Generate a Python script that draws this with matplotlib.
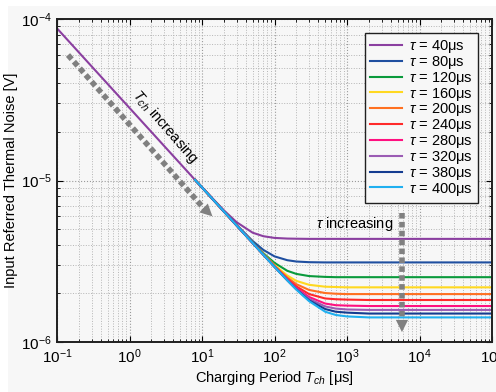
import numpy as np
import matplotlib
matplotlib.use("Agg")
import matplotlib.pyplot as plt
from matplotlib.patches import Rectangle

plt.rcParams['font.family'] = ['Liberation Sans', 'DejaVu Sans']
plt.rcParams['mathtext.fontset'] = 'custom'
plt.rcParams['mathtext.rm'] = 'Liberation Sans'
plt.rcParams['mathtext.it'] = 'Liberation Sans:italic'

# ---- data (noise in units of 1e-6 V) ----
tch = [0.1, 8, 10, 20, 30, 50, 70, 100, 150, 200, 300, 500, 700, 1000, 2000, 1e5]
NA = np.nan
tau40  = [87.5, 10.1, 9.08, 6.54, 5.52, 4.75, 4.52, 4.41, 4.37, 4.36, 4.35, 4.35, 4.35, 4.35, 4.35, 4.35]
tau80  = [NA, 10.1, 9.06, 6.46, 5.31, 4.22, 3.72, 3.39, 3.21, 3.15, 3.12, 3.11, 3.11, 3.11, 3.11, 3.11]
tau120 = [NA, 10.1, 9.06, 6.44, 5.28, 4.14, 3.55, 3.09, 2.76, 2.64, 2.56, 2.53, 2.52, 2.52, 2.52, 2.52]
tau160 = [NA, 10.1, 9.06, 6.44, 5.28, 4.12, 3.51, 2.99, 2.58, 2.39, 2.26, 2.20, 2.19, 2.18, 2.18, 2.18]
tau200 = [NA, 10.1, 9.06, 6.44, 5.27, 4.11, 3.49, 2.96, 2.51, 2.28, 2.10, 2.01, 1.99, 1.98, 1.98, 1.98]
tau240 = [NA, 10.1, 9.06, 6.44, 5.27, 4.11, 3.48, 2.94, 2.46, 2.21, 1.98, 1.86, 1.84, 1.83, 1.82, 1.82]
tau280 = [NA, 10.1, 9.06, 6.44, 5.27, 4.10, 3.48, 2.93, 2.44, 2.16, 1.90, 1.73, 1.69, 1.68, 1.67, 1.67]
tau320 = [NA, 10.1, 9.06, 6.44, 5.27, 4.10, 3.48, 2.92, 2.42, 2.13, 1.85, 1.66, 1.61, 1.59, 1.58, 1.58]
tau380 = [NA, 10.1, 9.06, 6.44, 5.27, 4.10, 3.47, 2.92, 2.41, 2.12, 1.81, 1.60, 1.54, 1.52, 1.50, 1.50]
tau400 = [NA, 10.1, 9.06, 6.44, 5.27, 4.10, 3.47, 2.92, 2.41, 2.11, 1.79, 1.54, 1.47, 1.44, 1.42, 1.42]

series = [tau40, tau80, tau120, tau160, tau200, tau240, tau280, tau320, tau380, tau400]
labels = ['40', '80', '120', '160', '200', '240', '280', '320', '380', '400']
colors = ['#8b3fa0', '#1f4fa0', '#0a9a3c', '#ffd820', '#ff7020', '#ff2a2a',
          '#ff1080', '#9b5cb4', '#143c90', '#20b0f0']

fig = plt.figure(figsize=(4.96, 3.92), dpi=100, facecolor='white')
fig.patches.append(Rectangle((8/496, 0), 1, 1 - 6/392, transform=fig.transFigure,
                             facecolor='#f7f7f7', edgecolor='none', zorder=-10))
ax = fig.add_axes([57/496, 1 - 342/392, 435/496, 323/392])
ax.set_facecolor('#f7f7f7')

for vals, lab, col in zip(series, labels, colors):
    ax.plot(tch, np.array(vals) * 1e-6, color=col, lw=1.5,
            label=r'$\tau$ = ' + lab + 'μs')

ax.set_xscale('log')
ax.set_yscale('log')
ax.set_xlim(1e-1, 1e5)
ax.set_ylim(1e-6, 1e-4)

ax.grid(True, which='major', linestyle=':', color='#9a9a9a', lw=0.8)
ax.grid(True, which='minor', linestyle=':', color='#b5b5b5', lw=0.7)
ax.tick_params(which='both', direction='in', top=True, right=True, labelsize=11, pad=4)
ax.tick_params(which='major', length=4, width=0.8)
ax.tick_params(which='minor', length=2, width=0.6)
for s in ax.spines.values():
    s.set_linewidth(1.4)
    s.set_color('#202020')

ax.set_xlabel(r'Charging Period $\mathit{T}_{\mathit{ch}}$ [μs]', fontsize=10.5, labelpad=2)
ax.set_ylabel('Input Referred Thermal Noise [V]', fontsize=10.5, labelpad=2)

leg = ax.legend(loc='upper right', bbox_to_anchor=(478/496, 1 - 33/392),
                bbox_transform=fig.transFigure, borderaxespad=0, fontsize=10.5,
                frameon=True, fancybox=False, edgecolor='#202020',
                facecolor='#f7f7f7', framealpha=1, handlelength=2.2,
                labelspacing=-0.08, borderpad=0.35, handletextpad=0.5)
leg.get_frame().set_linewidth(1.0)

gray = '#808080'
# diagonal arrow (T_ch increasing)
ax.plot([0.0253, 0.34], [0.8885, 0.41], transform=ax.transAxes, color=gray,
        lw=4, linestyle=(0, (1.0, 0.6)), solid_capstyle='butt', zorder=5)
ax.annotate('', xy=(0.362, 0.383), xytext=(0.33, 0.424), xycoords='axes fraction',
            arrowprops=dict(arrowstyle='-|>', mutation_scale=22, color=gray, lw=0),
            zorder=6)
ax.text(0.248, 0.666, r'$\mathit{T}_{\mathit{ch}}$ increasing', transform=ax.transAxes,
        rotation=-49, ha='center', va='center', fontsize=10.5, rotation_mode='anchor')

# vertical arrow (tau increasing)
ax.plot([0.793, 0.793], [0.40, 0.07], transform=ax.transAxes, color=gray,
        lw=4, linestyle=(0, (1.0, 0.6)), solid_capstyle='butt', zorder=5)
ax.annotate('', xy=(0.793, 0.022), xytext=(0.793, 0.08), xycoords='axes fraction',
            arrowprops=dict(arrowstyle='-|>', mutation_scale=22, color=gray, lw=0),
            zorder=6)
ax.text(0.684, 0.365, r'$\tau$ increasing', transform=ax.transAxes,
        ha='center', va='center', fontsize=10.5)

fig.savefig('out.png', dpi=100, facecolor=fig.get_facecolor())
